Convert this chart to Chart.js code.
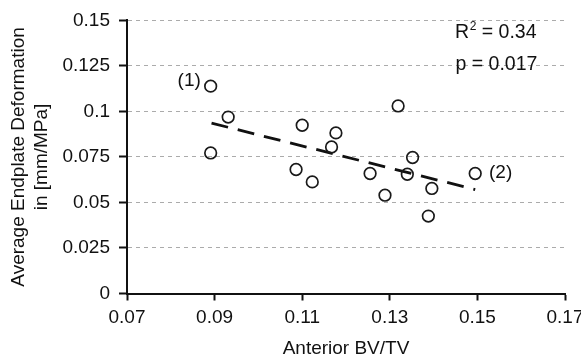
<!DOCTYPE html>
<html>
<head>
<meta charset="utf-8">
<script src="https://cdn.jsdelivr.net/npm/chart.js@4"></script>
<style>
html,body{margin:0;padding:0;background:#fff;overflow:hidden;}
#wrap{position:relative;width:581px;height:358px;}
</style>
</head>
<body>
<div id="wrap"><canvas id="c"></canvas></div>
<script>
// Data
const bvtv = [0.0891, 0.0931, 0.0891, 0.1100, 0.1177, 0.1167, 0.1086, 0.1123, 0.1255, 0.1289, 0.1319, 0.1352, 0.1340, 0.1396, 0.1388, 0.1495];
const deformation = [0.1139, 0.0969, 0.0772, 0.0924, 0.0882, 0.0805, 0.0681, 0.0613, 0.0659, 0.0540, 0.1030, 0.0747, 0.0655, 0.0577, 0.0425, 0.0659];
const trendX = [0.0893, 0.1495];
const trendY = [0.0936, 0.0571];
const xTickValues = [0.07, 0.09, 0.11, 0.13, 0.15, 0.17];
const xTickLabels = ['0.07', '0.09', '0.11', '0.13', '0.15', '0.17'];
const yTickValues = [0, 0.025, 0.05, 0.075, 0.1, 0.125, 0.15];
const yTickLabels = ['0', '0.025', '0.05', '0.075', '0.1', '0.125', '0.15'];
const pointLabels = ['(1)', '(2)'];
const pointLabelX = [0.0842, 0.1553];
const pointLabelY = [0.1170, 0.0663];
const statLines = [['R', '2', ' = 0.34'], ['p = 0.017']];
const statX = [0.1449, 0.1450];
const statY = [0.1402, 0.1225];

const FONT = "'Liberation Sans', Arial, sans-serif";
const TXT = '#111';

const annot = {
  id: 'annot',
  afterDatasetsDraw(chart) {
    const ctx = chart.ctx, xs = chart.scales.x, ys = chart.scales.y;
    ctx.save();
    ctx.fillStyle = TXT;
    ctx.font = '19px ' + FONT;
    ctx.textAlign = 'center';
    ctx.textBaseline = 'middle';
    pointLabels.forEach((t, i) => {
      ctx.fillText(t, xs.getPixelForValue(pointLabelX[i]), ys.getPixelForValue(pointLabelY[i]));
    });
    ctx.textAlign = 'left';
    ctx.textBaseline = 'alphabetic';
    statLines.forEach((parts, i) => {
      let x = xs.getPixelForValue(statX[i]);
      const y = ys.getPixelForValue(statY[i]);
      if (parts.length === 3) {
        ctx.font = '19.5px ' + FONT;
        ctx.fillText(parts[0], x, y);
        x += ctx.measureText(parts[0]).width;
        ctx.font = '12px ' + FONT;
        ctx.fillText(parts[1], x + 0.5, y - 8);
        x += ctx.measureText(parts[1]).width + 0.5;
        ctx.font = '19.5px ' + FONT;
        ctx.fillText(parts[2], x, y);
      } else {
        ctx.font = '19.5px ' + FONT;
        ctx.fillText(parts[0], x, y);
      }
    });
    ctx.restore();
  }
};

new Chart(document.getElementById('c'), {
  type: 'scatter',
  data: {
    datasets: [
      {
        label: 'trend',
        type: 'line',
        data: trendX.map((x, i) => ({x: x, y: trendY[i]})),
        borderColor: '#111',
        borderWidth: 2.8,
        borderDash: [17, 10],
        pointRadius: 0,
        fill: false,
        order: 2
      },
      {
        label: 'samples',
        data: bvtv.map((x, i) => ({x: x, y: deformation[i]})),
        pointRadius: 5.8,
        pointBorderWidth: 1.7,
        borderColor: '#1a1a1a',
        backgroundColor: 'rgba(255,255,255,0)',
        order: 1
      }
    ]
  },
  options: {
    responsive: true,
    maintainAspectRatio: false,
    animation: false,
    layout: {padding: {top: 20, left: 0, right: 0, bottom: 0}},
    plugins: {legend: {display: false}, tooltip: {enabled: false}},
    scales: {
      x: {
        type: 'linear',
        min: 0.07, max: 0.17,
        afterBuildTicks(s) { s.ticks = xTickValues.map(v => ({value: v})); },
        afterFit(s) { s.height = 64.5; s.paddingRight = 16; s.paddingLeft = 0; },
        ticks: {
          callback: (v) => xTickLabels[xTickValues.findIndex(t => Math.abs(t - v) < 1e-9)],
          font: {family: FONT, size: 19},
          color: TXT,
          padding: 6,
          maxRotation: 0,
          autoSkip: false
        },
        grid: {drawOnChartArea: false, drawTicks: true, tickLength: 7, tickWidth: 2, tickColor: '#111'},
        border: {display: true, color: '#111', width: 2},
        title: {
          display: true,
          text: 'Anterior BV/TV',
          font: {family: FONT, size: 19, lineHeight: 1},
          color: TXT,
          padding: {top: 0, bottom: 0}
        }
      },
      y: {
        type: 'linear',
        min: 0, max: 0.15,
        afterBuildTicks(s) { s.ticks = yTickValues.map(v => ({value: v})); },
        afterFit(s) { s.width = 127; },
        ticks: {
          callback: (v) => yTickLabels[yTickValues.findIndex(t => Math.abs(t - v) < 1e-9)],
          font: {family: FONT, size: 19},
          color: TXT,
          padding: 9,
          autoSkip: false
        },
        grid: {color: '#ababab', lineWidth: 1, drawTicks: true, tickLength: 8, tickWidth: 2, tickColor: '#111'},
        border: {display: true, color: '#111', width: 2, dash: [4, 4]},
        title: {
          display: true,
          text: ['Average Endplate Deformation', 'in [mm/MPa]'],
          font: {family: FONT, size: 19, lineHeight: 1.21},
          color: TXT,
          padding: {top: 7.5, bottom: 0}
        }
      }
    }
  },
  plugins: [annot]
});
</script>
</body>
</html>
